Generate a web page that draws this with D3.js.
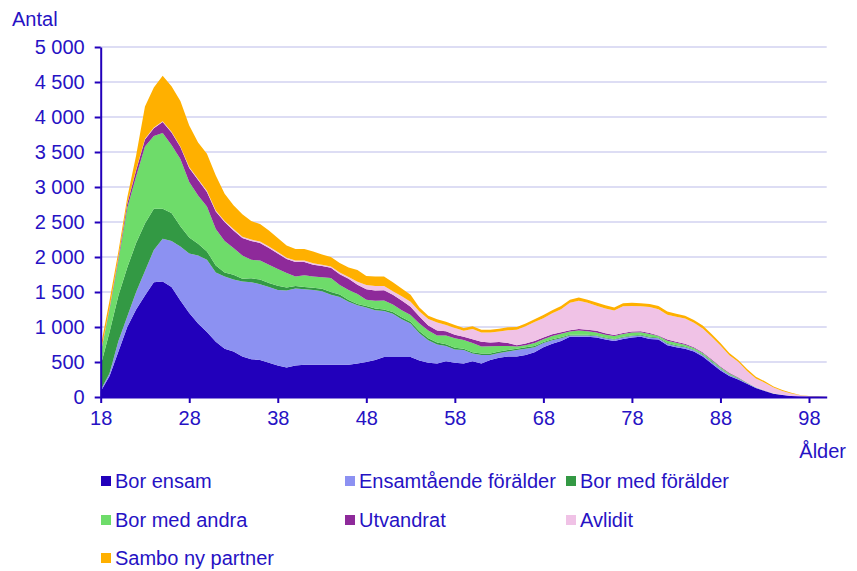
<!DOCTYPE html>
<html>
<head>
<meta charset="utf-8">
<script src="https://cdn.jsdelivr.net/npm/d3@7"></script>
<style>
  body { margin: 0; background: #fff; }
  svg text { font-family: "Liberation Sans", Arial, sans-serif; fill: #2612c4; }
</style>
</head>
<body>
<svg id="chart" width="857" height="571"></svg>
<script>
// ages 18..100
var ages = d3.range(18, 101);

var borEnsam = [
  80, 300, 650, 1000, 1250, 1450, 1640, 1650, 1570, 1380,
  1200, 1050, 930, 790, 690, 650, 580, 540, 530, 490,
  450, 420, 450, 460, 460, 460, 460, 460, 460, 480,
  500, 530, 570, 570, 570, 570, 520, 490, 480, 510,
  490, 480, 510, 480, 530, 560, 580, 580, 600, 640,
  710, 760, 800, 860, 860, 860, 850, 820, 800, 830,
  850, 860, 830, 820, 740, 710, 690, 650, 580, 480,
  380, 300, 250, 190, 130, 85, 45, 30, 15, 8,
  4, 2, 1];
var ensamForalder = [
  20, 40, 150, 150, 250, 350, 460, 610, 660, 770,
  850, 970, 1030, 990, 1030, 1030, 1070, 1100, 1080, 1080,
  1080, 1100, 1100, 1080, 1070, 1050, 1000, 970, 900, 830,
  780, 710, 660, 620, 540, 480, 390, 320, 270, 220,
  190, 190, 110, 120, 70, 70, 70, 90, 90, 70,
  60, 50, 40, 20, 20, 20, 20, 20, 20, 20,
  20, 20, 20, 20, 20, 20, 20, 20, 20, 20,
  20, 15, 12, 6, 4, 3, 2, 1, 0, 0,
  0, 0, 0];
var borMedForalder = [
  350, 590, 650, 700, 700, 680, 590, 430, 400, 290,
  230, 170, 120, 100, 60, 65, 40, 55, 70, 60,
  60, 45, 35, 30, 30, 35, 40, 35, 25, 20,
  20, 25, 20, 25, 30, 25, 30, 30, 30, 25,
  25, 20, 20, 20, 20, 20, 20, 20, 20, 20,
  15, 15, 15, 10, 10, 10, 10, 10, 10, 10,
  10, 10, 10, 10, 10, 10, 10, 10, 10, 10,
  8, 7, 5, 3, 2, 1, 1, 0, 0, 0,
  0, 0, 0];
var borMedAndra = [
  170, 320, 500, 850, 950, 1100, 1040, 1080, 970, 960,
  790, 690, 640, 520, 450, 385, 330, 265, 270, 260,
  240, 205, 135, 170, 160, 165, 200, 135, 145, 140,
  90, 110, 130, 105, 100, 95, 110, 110, 100, 125,
  135, 125, 130, 100, 105, 80, 60, 30, 30, 40,
  40, 45, 50, 45, 60, 50, 40, 40, 40, 40,
  40, 35, 40, 20, 35, 35, 25, 20, 20, 20,
  17, 13, 8, 5, 3, 2, 1, 1, 1, 0,
  0, 0, 0];
var utvandrat = [
  10, 20, 40, 60, 90, 100, 110, 160, 180, 170,
  200, 220, 210, 250, 270, 250, 250, 270, 250, 240,
  220, 200, 210, 190, 170, 160, 145, 155, 160, 135,
  150, 145, 145, 140, 140, 120, 100, 70, 70, 60,
  50, 45, 55, 70, 55, 55, 40, 20, 25, 30,
  25, 25, 20, 20, 20, 20, 25, 20, 15, 15,
  15, 15, 15, 10, 15, 15, 15, 10, 10, 10,
  10, 10, 7, 4, 2, 1, 1, 0, 0, 0,
  0, 0, 0];
var avlidit = [
  5, 5, 5, 5, 5, 10, 10, 10, 10, 10,
  15, 15, 15, 15, 15, 20, 20, 20, 20, 20,
  20, 20, 20, 20, 20, 20, 20, 25, 25, 40,
  60, 65, 60, 50, 60, 70, 70, 95, 115, 90,
  95, 85, 145, 130, 140, 150, 185, 220, 245, 270,
  275, 300, 330, 390, 405, 385, 360, 355, 350, 380,
  365, 355, 370, 375, 355, 355, 360, 350, 340, 320,
  300, 250, 220, 165, 125, 113, 84, 55, 35, 17,
  7, 3, 1];
var samboNyPartner = [
  85, 105, 85, 85, 205, 460, 570, 650, 650, 650,
  595, 520, 530, 500, 390, 340, 320, 265, 250, 230,
  200, 175, 165, 165, 170, 145, 135, 135, 135, 170,
  130, 135, 135, 130, 110, 100, 60, 45, 45, 45,
  45, 40, 40, 40, 40, 40, 40, 40, 40, 40,
  45, 45, 45, 45, 45, 45, 45, 45, 45, 45,
  45, 45, 45, 45, 45, 45, 40, 40, 40, 40,
  35, 35, 28, 27, 24, 20, 16, 13, 9, 5,
  4, 2, 1];

var seriesNames = ["Bor ensam", "Ensamtående förälder", "Bor med förälder",
  "Bor med andra", "Utvandrat", "Avlidit", "Sambo ny partner"];
var seriesValues = [borEnsam, ensamForalder, borMedForalder, borMedAndra,
  utvandrat, avlidit, samboNyPartner];
var colors = ["#2200bb", "#8c91f2", "#339944", "#6edc6a", "#8e2a9a", "#f0c2e6", "#ffb000"];
var yTicks = d3.range(0, 5001, 500);
var xTicks = [18, 28, 38, 48, 58, 68, 78, 88, 98];

var rows = ages.map(function(a, i) {
  var r = {age: a};
  seriesNames.forEach(function(n, j) { r[n] = seriesValues[j][i]; });
  return r;
});

var svg = d3.select("#chart");
var textColor = "#2612c4";
var fontSize = 20;

var x = d3.scaleLinear().domain([18, 100]).range([100.7, 826.7]);
var y = d3.scaleLinear().domain([0, 5000]).range([397, 47]);

// gridlines
svg.append("g")
  .selectAll("line")
  .data(yTicks.slice(1))
  .enter().append("line")
  .attr("x1", x(18)).attr("x2", x(100))
  .attr("y1", function(d) { return y(d); })
  .attr("y2", function(d) { return y(d); })
  .attr("stroke", "#d2d2f0")
  .attr("stroke-width", 1.5);

var stack = d3.stack().keys(seriesNames);
var layers = stack(rows);

var area = d3.area()
  .x(function(d) { return x(d.data.age); })
  .y0(function(d) { return y(d[0]); })
  .y1(function(d) { return y(d[1]); });

svg.append("g")
  .selectAll("path")
  .data(layers)
  .enter().append("path")
  .attr("fill", function(d, i) { return colors[i]; })
  .attr("d", area);

var fmt = d3.formatLocale({decimal: ",", thousands: "\u00a0", grouping: [3], currency: ["", " kr"]}).format(",");

var yAxis = svg.append("g")
  .attr("transform", "translate(" + x(18) + ",0)")
  .call(d3.axisLeft(y).tickValues(yTicks).tickFormat(fmt).tickSize(6).tickSizeOuter(0).tickPadding(10));

var xAxis = svg.append("g")
  .attr("transform", "translate(0," + y(0) + ")")
  .call(d3.axisBottom(x).tickValues(xTicks).tickSize(6).tickSizeOuter(0).tickPadding(8));

[yAxis, xAxis].forEach(function(g) {
  g.select(".domain").attr("stroke", "#2200bb").attr("stroke-width", 2);
  g.selectAll(".tick line").attr("stroke", "#2200bb").attr("stroke-width", 2);
  g.selectAll(".tick text").attr("fill", textColor).attr("font-size", fontSize)
    .attr("font-family", "Liberation Sans, Arial, sans-serif");
});

svg.append("text").attr("x", 12).attr("y", 26).attr("font-size", fontSize).text("Antal");
svg.append("text").attr("x", 846).attr("y", 458).attr("text-anchor", "end")
  .attr("font-size", fontSize).text("Ålder");

// legend
var legendPos = [[101, 481], [345, 481], [566, 481], [101, 520], [345, 520], [566, 520], [101, 558]];
var legend = svg.append("g")
  .selectAll("g")
  .data(seriesNames)
  .enter().append("g")
  .attr("transform", function(d, i) { return "translate(" + legendPos[i][0] + "," + legendPos[i][1] + ")"; });

legend.append("rect")
  .attr("x", 0).attr("y", -5).attr("width", 10).attr("height", 10)
  .attr("fill", function(d, i) { return colors[i]; });

legend.append("text")
  .attr("x", 14).attr("y", 7)
  .attr("font-size", fontSize)
  .text(function(d) { return d; });
</script>
</body>
</html>
